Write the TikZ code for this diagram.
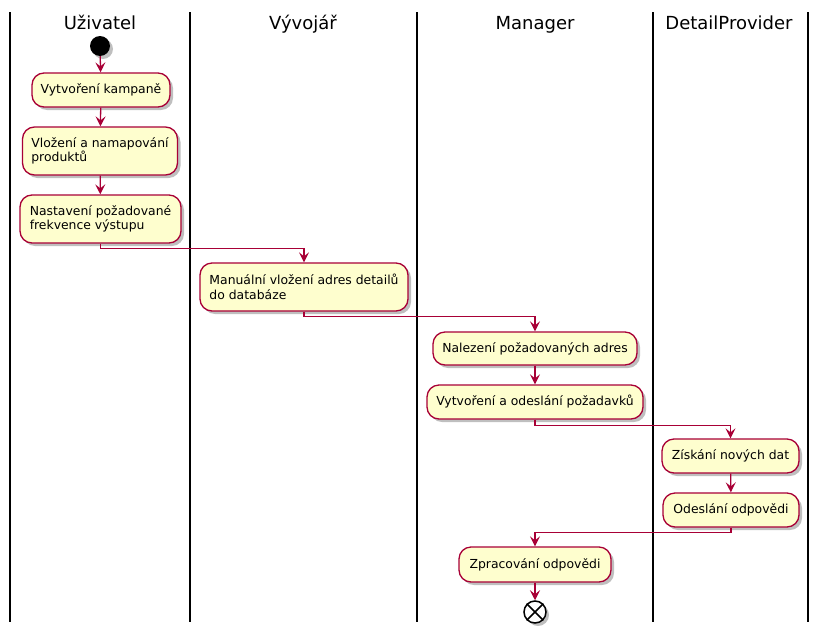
\documentclass[tikz,border=0pt]{standalone}
\usepackage{fontspec}
\setmainfont{DejaVu Sans}
\usetikzlibrary{arrows.meta,shadows}
\definecolor{boxfill}{HTML}{FEFECE}
\definecolor{boxline}{HTML}{A80036}
\tikzset{
  act/.style={draw=boxline, fill=boxfill, line width=1.3pt, rounded corners=12pt,
    font=\fontsize{12.4}{14.5}\selectfont, align=left, inner sep=0pt,
    drop shadow={shadow xshift=3pt, shadow yshift=-3pt, opacity=0.25, fill=black}},
  flow/.style={draw=boxline, line width=1.3pt,
    -{Stealth[length=10pt,width=10pt,inset=4pt]}},
  lane/.style={draw=black, line width=2pt},
  lanetitle/.style={font=\fontsize{18}{20}\selectfont, inner sep=0pt, anchor=base}
}
\begin{document}
\begin{tikzpicture}[x=1pt,y=-1pt]
\useasboundingbox (0,0) rectangle (819,632);
% lanes
\foreach \x in {10,190,417,653,808} \draw[lane] (\x,12) -- (\x,622);
\node[lanetitle] (t1) at (100,29) {Uživatel};
\node[lanetitle] (t2) at (303,29) {Vývojář};
\node[lanetitle] (t3) at (535,29) {Manager};
\node[lanetitle] (t4) at (729,29) {DetailProvider};
% start
\node[circle, fill=black, minimum size=20pt, inner sep=0pt,
  drop shadow={shadow xshift=3pt, shadow yshift=-3pt, opacity=0.25, fill=black}] (start) at (100,46) {};
% activities
\node[act, minimum width=138pt, minimum height=34pt] (b1) at (101,90) {Vytvoření kampaně};
\node[act, minimum width=155pt, minimum height=48pt] (b2) at (100,151) {Vložení a namapování\\produktů};
\node[act, minimum width=161pt, minimum height=48pt] (b3) at (100.5,219) {Nastavení požadované\\frekvence výstupu};
\node[act, minimum width=208pt, minimum height=48pt] (b4) at (304,287) {Manuální vložení adres detailů\\do databáze};
\node[act, minimum width=204pt, minimum height=33pt] (b5) at (535,348.5) {Nalezení požadovaných adres};
\node[act, minimum width=216pt, minimum height=34pt] (b6) at (535,402) {Vytvoření a odeslání požadavků};
\node[act, minimum width=137pt, minimum height=34pt] (b7) at (730.5,456) {Získání nových dat};
\node[act, minimum width=136pt, minimum height=34pt] (b8) at (731,510) {Odeslání odpovědi};
\node[act, minimum width=152pt, minimum height=35pt] (b9) at (535,564.5) {Zpracování odpovědi};
% end
\node[circle, draw=black, fill=white, line width=1.5pt, minimum size=22pt, inner sep=0pt,
  drop shadow={shadow xshift=3pt, shadow yshift=-3pt, opacity=0.25, fill=black}] (stop) at (535,612) {};
\draw[black, line width=1.5pt] (stop.north west) -- (stop.south east);
\draw[black, line width=1.5pt] (stop.north east) -- (stop.south west);
% flows
\draw[flow] (start) -- (b1);
\draw[flow] (b1) -- (b2);
\draw[flow] (b2) -- (b3);
\draw[flow] (b3.south) -- ++(0,5) -| (b4.north);
\draw[flow] (b4.south) -- ++(0,5) -| (b5.north);
\draw[flow] (b5) -- (b6);
\draw[flow] (b6.south) -- ++(0,6) -| (b7.north);
\draw[flow] (b7) -- (b8);
\draw[flow] (b8.south) -- ++(0,5) -| (b9.north);
\draw[flow] (b9) -- (stop);
\end{tikzpicture}
\end{document}
